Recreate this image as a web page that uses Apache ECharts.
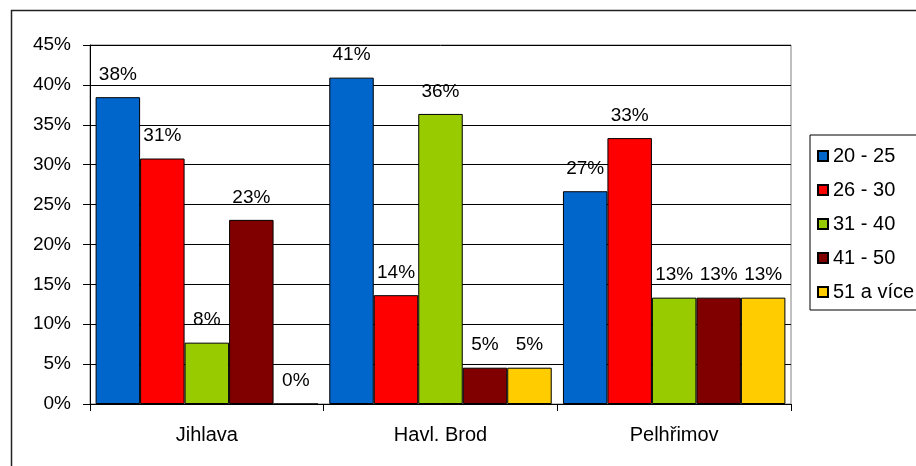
<!DOCTYPE html>
<html>
<head>
<meta charset="utf-8">
<script src="https://cdn.jsdelivr.net/npm/echarts@6/dist/echarts.min.js"></script>
<style>
  html, body { margin: 0; padding: 0; background: #fff; }
  #chart { width: 916px; height: 466px; }
</style>
</head>
<body>
<div id="chart"></div>
<script>
// Age groups by district (share of respondents, %)
const districts = ['Jihlava', 'Havl. Brod', 'Pelhřimov'];
const ageGroups = ['20 - 25', '26 - 30', '31 - 40', '41 - 50', '51 a více'];
const colors = ['#0066CC', '#FF0000', '#99CC00', '#800000', '#FFCC00'];

const age20to25 = [38.46, 40.91, 26.67];
const age26to30 = [30.77, 13.64, 33.33];
const age31to40 = [7.69, 36.36, 13.33];
const age41to50 = [23.08, 4.55, 13.33];
const age51plus = [0, 4.55, 13.33];

const yTicks = { min: 0, max: 45, interval: 5 };

const seriesValues = [age20to25, age26to30, age31to40, age41to50, age51plus];
const FONT = 'Liberation Sans, Arial, sans-serif';

const chart = echarts.init(document.getElementById('chart'), null, { renderer: 'canvas' });

chart.setOption({
  animation: false,
  backgroundColor: '#fff',
  textStyle: { fontFamily: FONT },
  graphic: [{
    type: 'rect',
    shape: { x: 11.5, y: 10.5, width: 1000, height: 1000 },
    style: { fill: 'none', stroke: '#222', lineWidth: 1.5 },
    silent: true,
    z: -1
  }],
  grid: {
    left: 90, top: 45, right: 125, bottom: 62,
    show: true, borderColor: '#808080', borderWidth: 1, backgroundColor: 'transparent'
  },
  legend: {
    orient: 'vertical',
    left: 810, top: 135,
    padding: [11, 30, 8, 7],
    itemGap: 14,
    itemWidth: 10, itemHeight: 10,
    itemTextGap: 9,
    icon: 'rect',
    borderColor: '#000', borderWidth: 1,
    textStyle: { fontSize: 20, color: '#000', fontFamily: FONT, lineHeight: 20 },
    data: ageGroups
  },
  xAxis: {
    type: 'category',
    data: districts,
    axisLine: { lineStyle: { color: '#000', width: 1 } },
    axisTick: { show: true, length: 7, lineStyle: { color: '#000' }, alignWithLabel: false },
    axisLabel: { fontSize: 20, color: '#000', margin: 21, fontFamily: FONT },
    splitLine: { show: false }
  },
  yAxis: {
    type: 'value',
    min: yTicks.min, max: yTicks.max, interval: yTicks.interval,
    axisLine: { show: true, lineStyle: { color: '#000', width: 1 } },
    axisTick: { show: true, length: 7, lineStyle: { color: '#000' } },
    axisLabel: { fontSize: 19, color: '#000', margin: 19, formatter: '{value}%', fontFamily: FONT },
    splitLine: { show: true, lineStyle: { color: '#000', width: 1 } }
  },
  series: ageGroups.map((name, i) => ({
    name,
    type: 'bar',
    data: seriesValues[i],
    barGap: '0%',
    barCategoryGap: '4.8%',
    itemStyle: { color: colors[i], borderColor: '#000', borderWidth: 1 },
    label: {
      show: true,
      position: 'top',
      distance: 13,
      fontSize: 19,
      color: '#000',
      fontFamily: FONT,
      formatter: p => Math.round(p.value) + '%'
    }
  }))
});
</script>
</body>
</html>
